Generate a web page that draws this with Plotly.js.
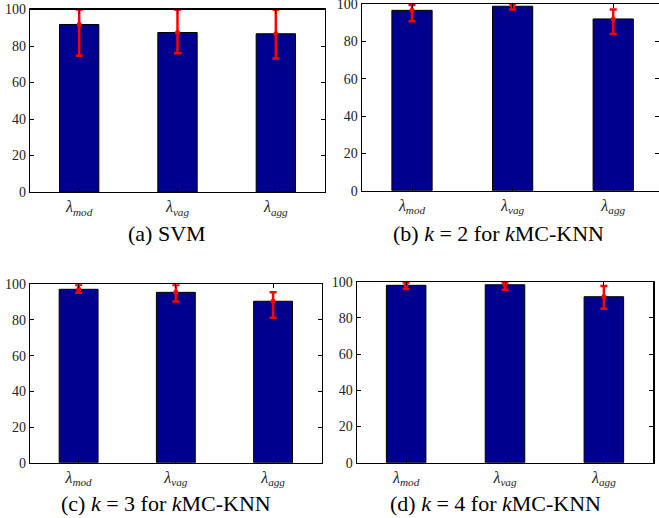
<!DOCTYPE html>
<html>
<head>
<meta charset="utf-8">
<script src="https://cdn.plot.ly/plotly-3.0.1.min.js"></script>
<style>html,body{margin:0;padding:0;background:#fff;}#chart{width:659px;height:518px;}</style>
</head>
<body>
<div id="chart"></div>
<script>
// Categories and tick labels
const categories = ['mod', 'vag', 'agg'];
const tickLabels = ['<i>λ</i><sub><i>mod</i></sub>', '<i>λ</i><sub><i>vag</i></sub>', '<i>λ</i><sub><i>agg</i></sub>'];
const yTicks = [0, 20, 40, 60, 80, 100];

// (a) SVM
const svmMean = [91.8, 87.4, 86.7];
const svmHigh = [100, 100, 100];
const svmLow  = [74.7, 76.0, 73.2];
// (b) k = 2
const k2Mean = [96.6, 98.8, 92.0];
const k2High = [99.5, 100, 97.1];
const k2Low  = [90.7, 97.0, 83.9];
// (c) k = 3
const k3Mean = [97.2, 95.5, 90.5];
const k3High = [99.6, 99.6, 95.5];
const k3Low  = [95.3, 90.3, 81.3];
// (d) k = 4
const k4Mean = [98.0, 98.3, 91.7];
const k4High = [99.6, 99.6, 97.6];
const k4Low  = [95.9, 95.6, 85.1];

const captions = [
  '(a) SVM',
  '(b) <i>k</i>&nbsp;=&nbsp;2&nbsp;for <i>k</i>MC-KNN',
  '(c) <i>k</i>&nbsp;=&nbsp;3&nbsp;for <i>k</i>MC-KNN',
  '(d) <i>k</i>&nbsp;=&nbsp;4&nbsp;for <i>k</i>MC-KNN'
];

const panels = [
  {mean: svmMean, high: svmHigh, low: svmLow},
  {mean: k2Mean, high: k2High, low: k2Low},
  {mean: k3Mean, high: k3High, low: k3Low},
  {mean: k4Mean, high: k4High, low: k4Low}
];

const W = 659, H = 518;
// pixel boxes [left, right, top, bottom]
const boxes = [
  [30, 325, 9.5, 192],
  [361.7, 659, 4, 190.7],
  [30, 321.7, 284.3, 462.7],
  [356.7, 653.3, 281.7, 462.7]
];
const xRanges = [[-0.5, 2.5], [-0.5, 2.455], [-0.5, 2.5], [-0.5, 2.5]];
const capPos = [[167, 233], [498.5, 233], [166, 503], [495, 503]];

const FONT = 'Liberation Serif';
const traces = [];
const layout = {
  width: W, height: H,
  margin: {l: 0, r: 0, t: 0, b: 0},
  paper_bgcolor: '#fff', plot_bgcolor: '#fff',
  showlegend: false,
  font: {family: FONT},
  annotations: []
};

panels.forEach((p, i) => {
  const n = i === 0 ? '' : String(i + 1);
  const xa = 'x' + n, ya = 'y' + n;
  traces.push({
    type: 'bar', x: categories, y: p.mean, xaxis: xa, yaxis: ya,
    width: 0.4,
    marker: {color: '#00008F', line: {color: '#000', width: 1}},
    hoverinfo: 'skip'
  });
  traces.push({
    type: 'scatter', mode: 'markers', x: categories, y: p.mean, xaxis: xa, yaxis: ya,
    marker: {color: '#FF0000', size: 5, symbol: 'circle'},
    error_y: {
      type: 'data', symmetric: false,
      array: p.high.map((h, j) => h - p.mean[j]),
      arrayminus: p.low.map((l, j) => p.mean[j] - l),
      color: '#FF0000', thickness: 2.5, width: 3.5
    },
    cliponaxis: false,
    hoverinfo: 'skip'
  });
  const b = boxes[i];
  layout['xaxis' + n] = {
    domain: [b[0] / W, b[1] / W],
    anchor: ya,
    type: 'category',
    range: xRanges[i],
    tickvals: categories, ticktext: tickLabels,
    ticks: 'inside', ticklen: 4, tickcolor: '#000', mirror: 'allticks',
    showline: true, linecolor: '#000', linewidth: 1.2,
    showgrid: false, zeroline: false, fixedrange: true,
    tickfont: {family: FONT, size: 16, color: '#222'}
  };
  layout['yaxis' + n] = {
    domain: [(H - b[3]) / H, (H - b[2]) / H],
    anchor: xa,
    range: [0, 100],
    tickvals: yTicks,
    ticks: 'inside', ticklen: 4, tickcolor: '#000', mirror: 'allticks',
    showline: true, linecolor: '#000', linewidth: 1.2,
    showgrid: false, zeroline: false, fixedrange: true,
    ticklabeloverflow: 'allow',
    tickfont: {family: FONT, size: 14, color: '#222'}
  };
  layout.annotations.push({
    text: captions[i], xref: 'paper', yref: 'paper',
    x: capPos[i][0] / W, y: (H - capPos[i][1]) / H,
    xanchor: 'center', yanchor: 'middle', showarrow: false,
    font: {family: FONT, size: 22, color: '#000'}
  });
});

Plotly.newPlot('chart', traces, layout, {displayModeBar: false, staticPlot: true});
</script>
</body>
</html>
